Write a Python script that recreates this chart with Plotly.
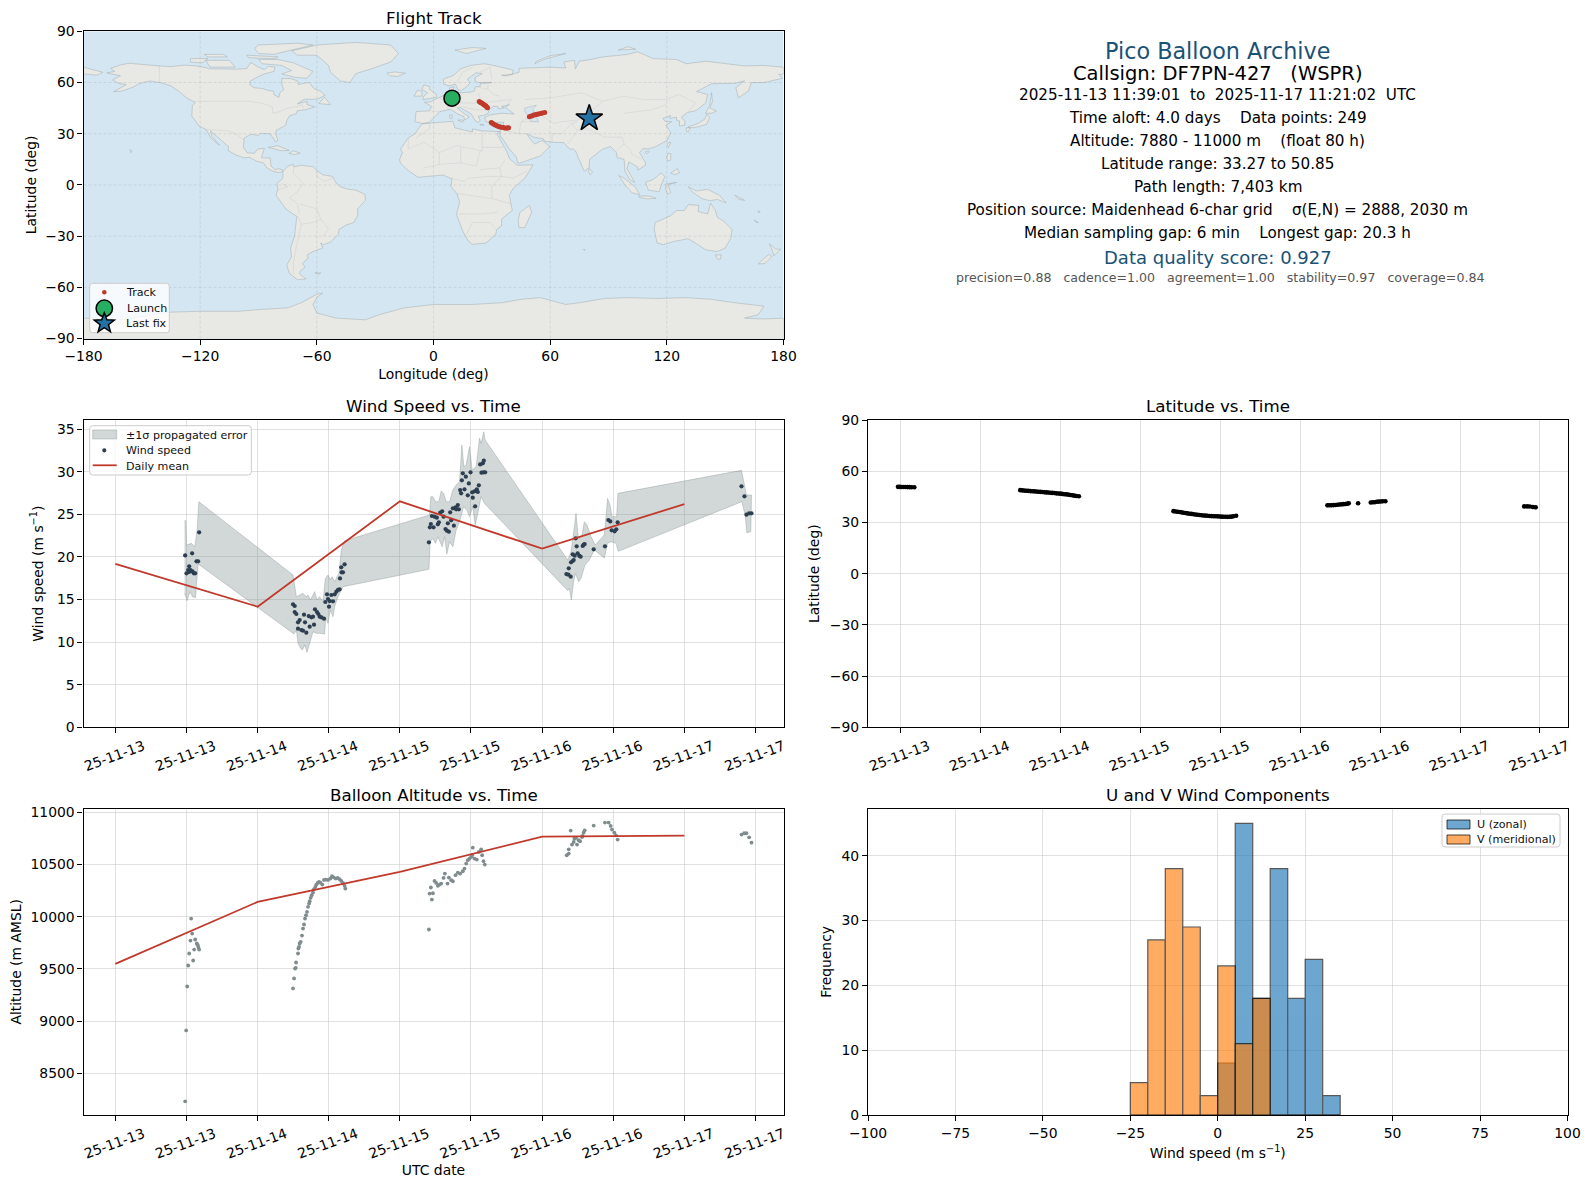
import math
import pandas as pd
import plotly.graph_objects as go

# ---------- chart data ----------
tick_hours = [0, 12, 24, 36, 48, 60, 72, 84, 96, 108]
tick_labels = ["25-11-13", "25-11-13", "25-11-14", "25-11-14", "25-11-15",
               "25-11-15", "25-11-16", "25-11-16", "25-11-17", "25-11-17"]
lat_tick_hours = [12, 24, 36, 48, 60, 72, 84, 96, 108]
lat_tick_labels = ["25-11-13", "25-11-14", "25-11-14", "25-11-15", "25-11-15",
                   "25-11-16", "25-11-16", "25-11-17", "25-11-17"]

wind_hours = [11.78, 12.96, 14.14, 13.69, 13.97, 12.46, 12.29, 12.68, 12.01, 12.46, 13.02, 13.24, 13.47,
              29.98, 30.26, 30.26, 30.54, 31.10, 30.82, 30.82, 31.38, 31.66, 32.22, 32.79, 33.52, 32.0, 31.83,
              32.62, 33.07, 33.35, 33.68, 34.02, 34.25, 34.47, 34.76, 35.2, 35.43, 35.71, 35.88, 36.05, 36.16,
              36.44, 36.72, 37.0, 37.29, 37.56, 37.84, 37.9, 38.12, 38.4, 38.68, 38.18,
              52.9, 53.06, 53.23, 53.68, 53.4, 53.85, 54.24, 54.41, 54.58, 54.81, 55.14, 55.37, 55.7, 55.93,
              56.27, 56.1, 56.49, 56.66, 57.11, 56.94, 57.39, 57.78, 57.5, 57.95, 58.17, 58.34, 58.46, 58.62,
              58.9, 59.13, 59.46, 59.63, 59.92, 60.3, 60.2, 60.59, 60.7, 60.98, 61.15, 61.32, 61.55, 61.77,
              61.99, 62.16, 62.11, 62.39,
              76.09, 76.43, 76.82, 76.49, 76.88, 77.16, 77.33, 77.16, 77.49, 77.83, 77.66, 77.99, 78.28, 78.5,
              78.84, 79.01, 79.18, 80.7, 82.6, 83.17, 83.5, 83.73, 84.23, 84.51, 84.74,
              105.63, 106.13, 106.47, 106.92, 107.32]
wind_speed = [20.18, 20.42, 22.88, 19.48, 19.48, 18.89, 18.46, 18.46, 18.07, 18.23, 18.31, 18.07, 18.07,
              14.43, 14.24, 13.53, 13.30, 12.59, 12.32, 11.58, 11.42, 11.34, 11.11, 11.81, 12.05, 12.32, 13.22,
              13.06, 12.91, 12.99, 13.85, 13.53, 13.30, 12.99, 12.91, 12.75, 14.71, 15.61, 15.06, 14.16, 14.82,
              15.53, 14.79, 15.61, 15.92, 16.12, 16.19, 17.48, 18.78, 18.19, 19.13, 18.19,
              21.71, 23.47, 23.86, 23.47, 24.8, 24.72, 24.6, 23.82, 24.06, 25.19, 25.35, 24.72, 23.27, 23.08,
              22.96, 23.94, 25.23, 24.29, 23.67, 25.7, 25.82, 26.09, 25.58, 25.58, 27.85, 27.46, 28.99, 29.81,
              27.93, 29.42, 27.23, 28.63, 29.93, 26.95, 27.58, 27.7, 25.94, 27.93, 27.62, 28.4, 30.86, 29.89,
              30.98, 31.3, 29.93, 29.93,
              17.99, 17.91, 17.68, 18.66, 19.36, 19.52, 19.64, 20.30, 20.15, 21.24, 22.18, 20.42, 20.11, 20.03,
              21.28, 21.44, 21.51, 20.89, 21.24, 24.33, 24.17, 23.12, 23.0, 23.24, 24.06,
              28.28, 27.11, 24.96, 25.11, 25.11]

upper_hours = [11.67, 11.9, 12.01, 12.85, 13.41, 13.8, 14.09, 29.98, 30.54, 31.1, 31.66, 32.22, 32.51, 32.9, 33.35,
               33.63, 34.02, 34.47, 35.03, 35.43, 35.88, 36.27, 36.55, 37.0, 37.39, 37.73, 38.12, 38.68, 53.0,
               53.23, 53.57, 54.02, 54.58, 54.97, 55.37, 55.82, 56.38, 56.94, 57.5, 58.06, 58.46, 58.79, 59.19,
               59.75, 60.2, 60.87, 61.43, 61.71, 62.16, 62.39, 76.32, 76.88, 77.44, 77.72, 78.11, 78.68, 79.12,
               79.57, 80.25, 80.98, 82.49, 83.05, 83.45, 83.78, 84.57, 84.79, 105.63, 106.08, 106.47, 107.32]
upper_speed = [24.25, 24.25, 21.39, 21.59, 21.2, 23.16, 26.48, 17.88, 15.33, 15.53, 15.72, 15.33, 15.53, 14.94, 15.53,
               15.92, 14.94, 15.33, 14.75, 17.48, 17.88, 17.29, 17.68, 17.09, 17.68, 18.07, 20.81, 21.9, 24.92,
               27.07, 27.07, 26.48, 26.48, 27.73, 27.46, 26.48, 26.48, 27.85, 28.44, 28.83, 33.13, 30.59, 30.79,
               32.94, 30.2, 30.59, 33.92, 33.33, 34.69, 33.72, 19.63, 20.61, 23.55, 25.12, 22.18, 22.37, 24.13,
               23.75, 22.37, 21.4, 22.57, 26.87, 26.09, 24.72, 24.72, 27.46, 30.16, 28.64, 27.27, 27.27]
lower_hours = [11.67, 12.12, 12.57, 13.02, 13.52, 13.97, 30.15, 30.54, 30.82, 31.27, 31.55, 31.94, 32.34, 32.79,
               33.35, 33.91, 34.47, 35.31, 35.48, 35.88, 36.27, 36.72, 37.0, 37.56, 38.4, 52.9, 53.12, 53.57,
               54.02, 54.41, 54.81, 55.14, 55.54, 55.93, 56.38, 56.94, 57.5, 58.17, 58.74, 59.3, 59.75, 60.3,
               60.7, 61.15, 61.71, 62.27, 76.32, 76.6, 76.93, 77.27, 77.6, 78.17, 78.56, 79.23, 79.96, 80.81,
               82.49, 83.05, 83.61, 84.45, 84.85, 105.69, 106.25, 106.53, 107.2]
lower_speed = [15.72, 14.86, 15.92, 15.33, 15.22, 19.17, 10.95, 11.42, 9.86, 9.27, 9.07, 9.66, 8.8, 9.86,
               11.22, 11.03, 11.03, 10.95, 12.79, 12.2, 13.77, 12.98, 14.16, 15.33, 16.5, 18.54, 21.79, 22.18,
               21.59, 22.37, 21.79, 21.2, 22.37, 20.34, 21.79, 21.2, 23.16, 24.33, 25.9, 25.5, 24.72, 25.9,
               23.75, 25.11, 27.07, 26.29, 16.04, 16.31, 14.94, 16.9, 18.07, 17.09, 17.48, 19.05, 19.63, 20.81,
               19.87, 21.59, 21.79, 21.59, 20.65, 26.48, 24.92, 22.84, 22.96]

daily_hours = [0, 24, 48, 72, 96]
daily_wind = [19.17, 14.16, 26.52, 20.97, 26.2]
daily_alt = [9549, 10142, 10429, 10768, 10777]

alt_hours = [11.78, 11.95, 12.12, 12.29, 13.13, 12.46, 13.3, 12.68, 12.96, 12.79, 13.47, 13.75, 13.92, 14.14, 14.03,
             29.98, 30.15, 30.32, 30.43, 30.49, 30.82, 30.88, 30.99, 31.1, 31.27, 31.49, 31.66, 31.83, 32.0, 32.17,
             32.34, 32.51, 32.68, 32.79, 32.96, 33.13, 33.35, 33.52, 33.74, 33.91, 34.14, 34.36, 34.59, 34.92, 35.2,
             35.49, 35.88, 36.27, 36.55, 36.83, 37.17, 37.5, 37.84, 38.12, 38.4, 38.68, 38.8,
             52.9, 53.4, 53.01, 53.57, 53.23, 54.41, 54.69, 53.85, 54.13, 54.97, 55.37, 55.59, 56.04, 56.27, 56.66,
             56.94, 57.39, 57.78, 58.17, 58.62, 58.9, 59.19, 59.46, 59.75, 60.03, 60.3, 60.59, 60.98, 61.32, 61.71,
             61.88, 62.11, 62.33, 60.2,
             76.15, 76.49, 76.49, 77.04, 76.82, 77.44, 77.33, 77.72, 77.89, 78.17, 78.4, 78.73, 78.84, 79.01, 79.18,
             80.7, 82.6, 83.22, 83.56, 83.79, 84.18, 84.46, 84.74,
             105.63, 106.08, 106.47, 106.92, 107.32]
alt_m = [8232, 8911, 9332, 9533, 9581, 9648, 9686, 9772, 9839, 9983, 9782, 9744, 9728, 9686, 9705,
         9313, 9409, 9504, 9511, 9562, 9648, 9696, 9712, 9744, 9760, 9820, 9887, 9926, 9983, 10015,
         10047, 10095, 10126, 10149, 10181, 10206, 10232, 10264, 10286, 10308, 10324, 10334, 10327, 10308, 10353,
         10356, 10353, 10366, 10388, 10378, 10366, 10372, 10359, 10343, 10324, 10296, 10270,
         9878, 10165, 10222, 10225, 10280, 10296, 10308, 10343, 10324, 10318, 10372, 10414, 10318, 10375, 10350,
         10340, 10398, 10423, 10414, 10436, 10461, 10509, 10541, 10557, 10573, 10662, 10557, 10548, 10621, 10646,
         10589, 10532, 10500, 10589,
         10589, 10605, 10646, 10691, 10825, 10748, 10717, 10755, 10691, 10733, 10723, 10764, 10774, 10806, 10828,
         10873, 10902, 10902, 10870, 10835, 10806, 10780, 10739,
         10787, 10800, 10800, 10761, 10710]

lat_hours = [11.65, 11.95, 12.2, 12.5, 12.8, 13.1, 13.4, 13.7, 14.1,
             30.0, 30.3, 30.6, 30.9, 31.2, 31.5, 31.8, 32.1, 32.4, 32.7, 33.0, 33.3, 33.6, 33.9, 34.2, 34.5, 34.8,
             35.1, 35.4, 35.7, 36.0, 36.3, 36.6, 36.9, 37.2, 37.5, 37.8, 38.1, 38.4, 38.8,
             53.0, 53.3, 53.6, 53.9, 54.2, 54.5, 54.8, 55.1, 55.4, 55.7, 56.0, 56.3, 56.6, 56.9, 57.2, 57.5, 57.8,
             58.1, 58.4, 58.7, 59.0, 59.3, 59.6, 59.9, 60.2, 60.5, 60.8, 61.1, 61.4, 61.7, 62.0, 62.4,
             76.1, 76.4, 76.7, 77.0, 77.3, 77.6, 77.9, 78.2, 78.5, 78.8, 79.1, 79.3, 80.7, 82.6, 82.9, 83.2, 83.5,
             83.8, 84.1, 84.4, 84.8,
             105.63, 106.08, 106.47, 106.92, 107.35]
lat_deg = [50.85, 50.8, 50.78, 50.75, 50.72, 50.7, 50.7, 50.65, 50.6,
           48.9, 48.8, 48.65, 48.6, 48.5, 48.35, 48.3, 48.2, 48.1, 48.0, 47.9, 47.8, 47.7, 47.6, 47.5, 47.4, 47.3,
           47.2, 47.05, 46.95, 46.85, 46.7, 46.55, 46.45, 46.3, 46.1, 45.9, 45.7, 45.5, 45.3,
           36.6, 36.4, 36.3, 36.1, 35.9, 35.7, 35.5, 35.3, 35.1, 35.0, 34.8, 34.65, 34.5, 34.35, 34.2, 34.1, 34.0,
           33.9, 33.8, 33.7, 33.65, 33.6, 33.55, 33.5, 33.4, 33.35, 33.3, 33.27, 33.3, 33.4, 33.6, 33.9,
           40.0, 40.05, 40.1, 40.15, 40.25, 40.4, 40.5, 40.6, 40.7, 40.8, 41.0, 41.2, 41.2, 41.7, 41.8, 41.85, 42.1,
           42.2, 42.3, 42.4, 42.4,
           39.4, 39.4, 39.3, 39.0, 38.9]

track_lon = [9.5, 10.0, 10.5, 11.0, 23.5, 24.0, 24.5, 25.0, 25.5, 26.0, 26.5, 27.0, 27.4, 27.8,
             29.7, 30.3, 31.0, 31.8, 32.6, 33.4, 34.2, 35.0, 35.8, 36.6, 37.4, 38.0, 38.6,
             49.3, 50.0, 50.8, 51.6, 52.4, 53.2, 54.0, 55.0, 56.0, 57.2,
             79.6, 80.1, 80.5]
track_lat = [50.85, 50.8, 50.7, 50.6, 48.9, 48.5, 48.1, 47.8, 47.4, 47.0, 46.6, 46.2, 45.7, 45.2,
             36.6, 36.1, 35.6, 35.1, 34.7, 34.3, 34.0, 33.8, 33.6, 33.4, 33.3, 33.3, 33.5,
             40.0, 40.3, 40.6, 40.9, 41.1, 41.4, 41.6, 41.9, 42.2, 42.4,
             39.4, 39.2, 38.9]
launch_lon, launch_lat = [9.5], [50.85]
last_lon, last_lat = [80.1], [39.0]

hist_centers = [-22.5, -17.5, -12.5, -7.5, -2.5, 2.5, 7.5, 12.5, 17.5, 22.5, 27.5, 32.5]
u_counts = [0, 0, 0, 0, 0, 8, 45, 18, 38, 18, 24, 3]
v_counts = [5, 27, 38, 29, 3, 23, 11, 18, 0, 0, 0, 0]

north_america = [(-168,65.6),(-164,66.5),(-166,68.3),(-161,70.3),(-156.5,71.3),(-150,70.5),(-141,69.7),(-135,69.3),(-128,70.2),(-120,69.5),(-115,68),(-108,68),(-102,67.8),(-96,68.2),(-94,71.8),(-90,69),(-87,67.5),(-85,69.5),(-81.5,69),(-82,66.5),(-87,65),(-90,63.5),(-94,61),(-94.5,58.8),(-92.5,57),(-88,56.5),(-85,55.3),(-82.3,55),(-82,52.8),(-79.5,51.3),(-79,54),(-77,56),(-78,58.8),(-78,62.4),(-73.5,62.3),(-70,61),(-69.5,58.8),(-65.5,59.8),(-64,60),(-61.5,56.5),(-58,54.8),(-55.7,52.5),(-60,50.2),(-66.5,50.2),(-70,47.5),(-65,49),(-65,47),(-61,45.8),(-66,44),(-70,43.5),(-70.5,41.7),(-74,40.6),(-75.5,37.5),(-76,35),(-78,33.8),(-81,31.8),(-81,29.5),(-80.1,26),(-81.2,25.2),(-82.8,28),(-84,30),(-89,30.2),(-90,29.1),(-94,29.6),(-97.3,27.5),(-97.8,22.3),(-95.8,18.8),(-92,18.6),(-90.5,21),(-87,21.5),(-88,18),(-88.5,15.9),(-84,15.8),(-83.5,11),(-81.5,9),(-79.5,9.5),(-77.4,8.6),(-78,7.5),(-80,7.3),(-83,8.2),(-85.7,10),(-87.5,13),(-91,13.9),(-94.5,16.2),(-97.5,15.9),(-101.5,17.5),(-105.5,20),(-105.5,22.5),(-109,26),(-112.7,30),(-114.7,31.7),(-114,28.5),(-110,23.2),(-112,25),(-114.5,27.5),(-117,32.5),(-120.6,34.5),(-122.5,37.7),(-124.3,40.3),(-124,46.5),(-122.5,48.3),(-127,51),(-130.5,54.5),(-135,58),(-140,59.8),(-146,60.9),(-151.5,59.3),(-154,57.5),(-160,55),(-164.5,54.6),(-158,58.8),(-162,59.5),(-165,61.5),(-161,64)]
south_america = [(-77,8.5),(-75,11),(-72,12),(-71.5,10.7),(-68,11.5),(-62,10.7),(-60,8.5),(-57,6),(-52,5),(-50,1),(-48,-1),(-44,-2.5),(-40,-3),(-35.3,-5.5),(-35,-9),(-39,-14),(-39,-18),(-41,-22),(-45,-23.5),(-48.5,-26),(-49,-29),(-53,-33.5),(-56.5,-35),(-58,-34),(-57,-37),(-62,-39),(-65,-41),(-64.5,-43),(-67.5,-46),(-66,-48),(-69,-51),(-68.5,-52.5),(-65.5,-55),(-70,-55.5),(-74,-52),(-75.5,-47),(-73,-42),(-73.5,-37),(-71.5,-30),(-70.3,-18.5),(-76,-14),(-81,-6),(-80,-2.5),(-80.5,0.8),(-77.5,4),(-77.5,7)]
eurasia = [(-9.5,37),(-9,43),(-2,43.4),(-1,46),(-4.7,48.4),(-1.5,48.7),(1.5,50.5),(3.5,51.4),(7,53.4),(8.5,54),(8.2,56.8),(10.5,57.5),(10,54.5),(14,54),(19,54.4),(21,55),(21.5,57.5),(24,57.5),(24,59.3),(30,60),(23,60),(21.3,61),(21.5,63),(25,65.2),(22,65.7),(17.5,62),(18.8,59.7),(16.5,57),(14.3,55.5),(12.8,55.5),(11.2,59),(8,58),(5.3,59),(5,62),(10,64),(14,68),(19,70),(26,71),(31,70),(41,67.3),(40.5,64.6),(35,64.3),(37,63.9),(44,66),(44,68.3),(54,68.5),(60,69),(68,68.5),(67,72),(72.5,73),(73,68),(75,72.5),(81,73.5),(87,75),(100,76.5),(105,78),(113,74),(125,73.5),(130,71),(140,72.5),(150,71),(160,69.7),(170,70),(180,69),(180,65),(177.5,64.7),(179.5,62.5),(170,60),(163.5,60),(163,58),(162,55),(156.8,51),(155.5,57),(160,61),(155,59.5),(143,59.3),(135.3,54.7),(141,53),(140,48),(135,43.5),(130.7,42.5),(127.5,39.8),(129.4,37),(129,35),(126.5,34.5),(126.5,37.5),(125,38),(125,39.7),(121.5,39),(122,40.7),(118,39),(119,37.3),(122.5,37),(119.5,35),(122,30.5),(120,26),(114,22.3),(110,21),(108,21.5),(106,19),(109,13),(109,11.5),(105,8.7),(105,10.5),(100.5,13.5),(99.5,9.5),(103.5,1.5),(101,3),(98.5,8),(98,15),(94.5,16),(94,19),(91,22.5),(87,21),(80.3,15),(80,10),(77.5,8),(73,20),(72,21),(70,21),(67,24.8),(61.5,25),(57,25.7),(56.5,27),(51.5,28),(48,30),(50,26.5),(52,24),(56,26),(59.8,22.5),(55,17),(45,13),(43.3,12.8),(42.5,16.5),(39,21),(35,28),(34.3,28),(34.3,31.3),(36,35),(36,36.8),(30.5,36.5),(27,37),(26.3,39.5),(29,41),(35,42),(41.5,41.5),(38,44.5),(37,45.5),(39,47),(35,46),(36.5,45.2),(33.5,44.5),(33,46),(30.7,46),(28.5,44),(28,41.8),(26,40.8),(23,40.3),(24,38),(23,36.5),(21.5,37.5),(19.5,41.5),(13.5,45.5),(12.3,45),(16,41.5),(18.5,40),(16,38),(15.7,40),(12.5,41.5),(8.8,44.3),(3.2,43),(0,39.5),(-2,36.8),(-5.5,36)]
africa = [(-6,35.8),(10,37.3),(11,33.5),(15,32.3),(20,31),(20,32.8),(25,31.7),(32,31.3),(34.3,31.3),(32.5,30),(35.5,24),(37.5,20),(39,15.5),(43,11.5),(51.2,11.8),(47,4),(41,-2),(39,-6),(40.5,-15),(35,-20),(35,-24),(32.5,-26),(32,-29),(27,-34),(20,-34.8),(18,-33),(15,-27),(11.8,-17),(13.5,-10),(12,-5),(9,-1),(9.5,3.5),(5,5.8),(-4,5.2),(-8,4.5),(-13,8.5),(-16.8,12.5),(-17.5,14.7),(-16,19),(-17,21),(-13,27.5),(-9.5,30)]
australia = [(114,-22),(113.5,-26),(115,-34),(118,-35),(124,-33),(131,-31.5),(136,-35),(140,-38),(146,-39),(150,-37),(153,-31),(153.5,-26),(149,-21),(146,-19),(145,-15),(142.5,-10.7),(141,-17),(136,-15.5),(136.5,-12),(131,-11.5),(129,-15),(125,-15),(122,-18)]
antarctica = [(-180,-78),(-160,-79),(-150,-77),(-135,-74.5),(-120,-74),(-100,-74),(-90,-73),(-75,-72),(-68,-69),(-60,-64),(-57,-63.3),(-60,-66),(-62,-70),(-60,-75),(-50,-78),(-35,-79),(-28,-76),(-15,-72),(0,-70),(20,-70),(35,-69),(45,-67),(55,-66),(68,-70),(75,-69),(88,-66.5),(100,-66),(115,-66.5),(130,-66),(143,-67),(155,-69),(170,-71),(167,-76),(160,-78),(170,-78.5),(180,-78),(180,-90),(-180,-90)]
greenland = [(-73,78.5),(-60,82),(-40,83.5),(-22,82),(-18,77),(-22,72),(-32,68),(-40,65.2),(-43,60),(-48,61),(-53,66),(-54,70),(-60,76),(-70,76)]
islands = [
    [(-80,73.5),(-72,71.5),(-68,69.5),(-62,66.5),(-65,62.5),(-71,63),(-78,65),(-73,67),(-78,70),(-88,71),(-90,73.5)],
    [(-117,73),(-105,73),(-102,69),(-115,69)], [(-125,74),(-116,74),(-119,71.5),(-125,72)],
    [(-90,77),(-82,76.5),(-75,78.5),(-62,82),(-70,83),(-90,82),(-92,80)], [(-96,76),(-80,75),(-82,74),(-95,74.5)],
    [(-118,76.5),(-108,76.5),(-106,75),(-116,75)], [(-59,47.7),(-56,51.5),(-53,47)],
    [(-85,22),(-80,23),(-74.2,20.2),(-78,20)], [(-74.4,18.5),(-72,20),(-68.5,18.6),(-71.5,17.8)],
    [(-156,20.8),(-155,19.7),(-155.8,19)], [(-61,-51.5),(-58,-51.5),(-59,-52.3)],
    [(-24,65.5),(-20,66.2),(-14.5,65.5),(-18.5,63.5),(-22.5,64)], [(-5.5,50),(1.5,51.2),(1.5,53),(-2,56),(-2,57.7),(-5,58.6),(-6,56),(-3,54),(-5,52)],
    [(-10,52),(-6,52),(-6,55),(-8.5,55.3)], [(49.3,-12),(50.5,-16),(47,-25),(44,-25),(43.5,-21),(44.5,-16)],
    [(145,-41),(148,-41),(147.5,-43.5),(146,-43.5)], [(172.7,-34.5),(176,-37.5),(178.5,-37.7),(175,-41.5),(174.5,-39),(173.5,-36)],
    [(172.5,-40.7),(174,-42),(170.5,-46),(167,-46.3),(169,-44)], [(131,-1),(135,-3.5),(141,-2.6),(147,-6),(150.5,-10.5),(146,-8.5),(142,-9.2),(138,-8),(133,-4)],
    [(109,1.5),(113,3.2),(117,7),(119,5),(117.5,1),(116,-4),(110.5,-3)], [(95.3,5.5),(98,4),(104,-1.5),(106,-5.8),(102,-4.5),(98.5,0)],
    [(105.5,-6.5),(111,-6.5),(114.5,-7.8),(110,-8.2),(106,-7.4)], [(119.5,0.5),(125,1.5),(120.5,0.2),(122,-4.5),(120.5,-5.5),(119.5,-3)],
    [(120.5,18.5),(122,18.3),(122,14.5),(120.5,14),(120,16)], [(122,7),(125.5,9.5),(126.5,7),(124,6)],
    [(121,25),(122,24.8),(120.8,22),(120.1,23.3)], [(108.8,19.2),(110.5,20),(111,19.5),(109.5,18.2)],
    [(80,9.7),(81.8,7.5),(80.5,6),(79.8,8)], [(130.9,34),(136,36),(139.5,38.5),(140.5,41.5),(142,39.5),(140.5,35.5),(136,34),(132,33.5)],
    [(140,42),(141.5,45.5),(145.5,43.3),(143,42)], [(130,33.5),(132,33.5),(131,31),(130,31.5)], [(142,46),(143,54),(143.5,49),(142.5,46.2)],
    [(52,71),(57,73.5),(68,77),(60,75.7),(53,72.5)], [(11,79),(20,80.5),(27,80),(17,77)], [(95,79),(104,79.5),(100,81)],
    [(-180,69),(-175,67.5),(-170,66),(-173,64.3),(-180,65)], [(12.5,38),(15.5,38),(15,36.7)], [(8.3,41),(9.7,41),(9.5,39),(8.5,39)],
    [(24,35.5),(26,35.2),(24,35)], [(32.5,35),(34.5,35.5),(33.5,34.7)], [(167,-15),(168,-16),(167,-16)], [(165,-20.5),(167,-22),(166,-22)],
    [(77,-37.8),(78,-38),(77.5,-38.4)], [(155,-6),(160,-9),(157,-8.5)],
]
caspian = [(47,45),(53,46.8),(51,44.5),(53,40),(54,37),(50,37.3),(49,40),(47,43)]
borders = [
    [(-123,49),(-95,49),(-89,48),(-83,46),(-82.5,42),(-79,43),(-75,45),(-70,46),(-67.5,47),(-67,45)],
    [(-141,60),(-141,69.7)], [(-117,32.5),(-106,31.7),(-101,29.5),(-97.3,26)],
    [(-72,12),(-72,7),(-67,1),(-70,-4),(-74,-7.5),(-70,-11),(-69,-17)], [(-60,8.5),(-60,5),(-56,2),(-52,4)],
    [(-70,-18),(-68,-23),(-70,-33),(-72,-45),(-72,-52)], [(-58,-20),(-54,-26),(-57,-30)], [(-69,-11),(-60,-14),(-58,-20),(-62,-22),(-68,-23)],
    [(-80,-3),(-75,-1),(-78,1)], [(-2,36),(-2,33),(-9,27.5)], [(-13,27.5),(-13,21),(-5,25),(3,19),(12,23),(25,20),(25,31.7)], [(25,22),(36,22)],
    [(3,12),(3,19)], [(-5,10),(3,12),(14,13),(14,22)], [(14,13),(22,11),(24,20)], [(24,9),(34,10),(37,15)], [(34,10),(35,5),(41,4),(48,8)],
    [(35,5),(30,-1),(30,-8),(40,-11)], [(12,-5),(30,-8)], [(13,-17),(25,-17),(33,-16)], [(17,-29),(20,-22),(29,-22),(32,-26)],
    [(9,4),(16,2),(18,4),(28,5),(35,5)], [(-1,43),(3,43)], [(3,51),(7,48),(7.5,44)], [(6.5,53),(6,50),(14,48),(14,54)], [(14,48),(22,48),(24,51),(23,54)],
    [(14,46),(22,44),(28,44)], [(28,46),(24,48),(40,50),(38,47)], [(24,57),(28,56),(31,53),(34,52)], [(28,56),(28,60)], [(24,66),(29,69),(30,62)],
    [(12,60),(15,66),(20,69)], [(47,50),(60,51),(76,54),(87,49)], [(55,41),(62,36),(66,37),(74,38),(80,42),(87,49)], [(48,39),(45,37),(44,30),(48,30)],
    [(36,32),(44,30)], [(45,37),(54,37)], [(61,30),(61,25)], [(61,30),(66,30),(71,36),(74,37)], [(71,36),(74,32),(71,27),(69,24)], [(74,32),(79,33),(88,28),(97,28)],
    [(97,28),(98,24),(101,21),(102,18),(107,15)], [(98,24),(94,20)], [(87,49),(98,52),(108,50),(120,50),(126,53),(135,48),(131,43)], [(98,42),(112,44),(120,47)],
]
grid_lons = [-120, -60, 0, 60, 120]
grid_lats = [-60, -30, 0, 30, 60]

info_lines = [
    ("Pico Balloon Archive", 22.3, "#1a5276", 51, 1217.5),
    ("Callsign: DF7PN-427   (WSPR)", 19.5, "#000000", 73.5, 1217.5),
    ("2025-11-13 11:39:01  to  2025-11-17 11:21:02  UTC", 15.2, "#000000", 95, 1217),
    ("Time aloft: 4.0 days    Data points: 249", 15.2, "#000000", 118.3, 1217.5),
    ("Altitude: 7880 - 11000 m    (float 80 h)", 15.2, "#000000", 141.3, 1217.5),
    ("Latitude range: 33.27 to 50.85", 15.2, "#000000", 164.3, 1217.5),
    ("Path length: 7,403 km", 15.2, "#000000", 187.3, 1217.5),
    ("Position source: Maidenhead 6-char grid    σ(E,N) = 2888, 2030 m", 15.2, "#000000", 210.3, 1217.5),
    ("Median sampling gap: 6 min    Longest gap: 20.3 h", 15.2, "#000000", 233.3, 1217.5),
    ("Data quality score: 0.927", 18, "#1a5276", 257.5, 1217.5),
    ("precision=0.88   cadence=1.00   agreement=1.00   stability=0.97   coverage=0.84", 12.6, "#555555", 277.7, 1220),
]

# ---------- helpers ----------
W, H = 1589, 1189
FONT = "DejaVu Sans"
TICK = 13.9
GRID = "rgba(200,200,200,0.55)"
BASE = pd.Timestamp("2025-11-13")
BAND = "rgba(127,140,141,0.35)"
RED = "#c0392b"


def when(hours):
    return [BASE + pd.Timedelta(hours=h) for h in hours]


def xd(a, b):
    return [a / W, b / W]


def yd(top, bottom):
    return [1 - bottom / H, 1 - top / H]


def rings(polys):
    xs, ys = [], []
    for poly in polys:
        closed = list(poly) + [poly[0]]
        xs += [p[0] for p in closed] + [None]
        ys += [p[1] for p in closed] + [None]
    return xs, ys


def lines(polys):
    xs, ys = [], []
    for poly in polys:
        xs += [p[0] for p in poly] + [None]
        ys += [p[1] for p in poly] + [None]
    return xs, ys


COL1, COL2 = (83.5, 783.5), (868, 1567.5)
ROW1, ROW2, ROW3 = (31.3, 338.6), (420, 727.3), (808.7, 1115)

fig = go.Figure()

# ---------- map ----------
COAST = "rgba(150,160,165,0.6)"
lx, ly = rings([north_america, south_america, eurasia, africa, australia, antarctica, greenland] + islands)
fig.add_trace(go.Scatter(x=lx, y=ly, mode="lines", fill="toself", fillcolor="#e8e8e4",
                         line=dict(color=COAST, width=0.7),
                         hoverinfo="skip", showlegend=False, xaxis="x", yaxis="y"))
cx, cy = rings([caspian])
fig.add_trace(go.Scatter(x=cx, y=cy, mode="lines", fill="toself", fillcolor="#d4e6f1",
                         line=dict(color=COAST, width=0.6),
                         hoverinfo="skip", showlegend=False, xaxis="x", yaxis="y"))
bx, by = lines(borders)
fig.add_trace(go.Scatter(x=bx, y=by, mode="lines", line=dict(color="rgba(190,195,195,0.45)", width=0.7),
                         hoverinfo="skip", showlegend=False, xaxis="x", yaxis="y"))
gx, gy = lines([[(v, -90), (v, 90)] for v in grid_lons] + [[(-180, v), (180, v)] for v in grid_lats])
fig.add_trace(go.Scatter(x=gx, y=gy, mode="lines", line=dict(color="rgba(120,125,130,0.24)", width=0.7, dash="3px,2px"),
                         hoverinfo="skip", showlegend=False, xaxis="x", yaxis="y"))
fig.add_trace(go.Scatter(x=track_lon, y=track_lat, mode="markers", name="Track", showlegend=False,
                         marker=dict(color=RED, size=5, line=dict(width=0)), xaxis="x", yaxis="y"))
fig.add_trace(go.Scatter(x=launch_lon, y=launch_lat, mode="markers", name="Launch", showlegend=False,
                         marker=dict(color="#27ae60", size=16, line=dict(color="black", width=1.5)),
                         xaxis="x", yaxis="y"))
fig.add_trace(go.Scatter(x=last_lon, y=last_lat, mode="markers", name="Last fix", showlegend=False,
                         marker=dict(color="#2471a3", size=20, symbol="star", line=dict(color="black", width=1.5)),
                         xaxis="x", yaxis="y"))

# ---------- wind ----------
fig.add_trace(go.Scatter(x=when(upper_hours + lower_hours[::-1]), y=upper_speed + lower_speed[::-1],
                         mode="lines", fill="toself", fillcolor=BAND, showlegend=False,
                         line=dict(color=BAND, width=1), name="±1σ propagated error", xaxis="x2", yaxis="y2"))
fig.add_trace(go.Scatter(x=when(wind_hours), y=wind_speed, mode="markers", name="Wind speed", showlegend=False,
                         marker=dict(color="#2c3e50", size=4.2, line=dict(width=0)), xaxis="x2", yaxis="y2"))
fig.add_trace(go.Scatter(x=when(daily_hours), y=daily_wind, mode="lines", name="Daily mean", showlegend=False,
                         line=dict(color=RED, width=1.8), xaxis="x2", yaxis="y2"))

# ---------- latitude ----------
fig.add_trace(go.Scatter(x=when(lat_hours), y=lat_deg, mode="markers", showlegend=False, name="Latitude",
                         marker=dict(color="black", size=4.6, line=dict(width=0)), xaxis="x3", yaxis="y3"))

# ---------- altitude ----------
fig.add_trace(go.Scatter(x=when(alt_hours), y=alt_m, mode="markers", showlegend=False, name="Altitude",
                         marker=dict(color="#7f8c8d", size=3.8, line=dict(width=0)), xaxis="x4", yaxis="y4"))
fig.add_trace(go.Scatter(x=when(daily_hours), y=daily_alt, mode="lines", showlegend=False, name="Daily mean altitude",
                         line=dict(color=RED, width=1.8), xaxis="x4", yaxis="y4"))

# ---------- histogram ----------
fig.add_trace(go.Bar(x=hist_centers, y=u_counts, width=5, name="U (zonal)", opacity=0.65, showlegend=False,
                     marker=dict(color="#1f77b4", line=dict(color="black", width=1.2)), xaxis="x5", yaxis="y5"))
fig.add_trace(go.Bar(x=hist_centers, y=v_counts, width=5, name="V (meridional)", opacity=0.65, showlegend=False,
                     marker=dict(color="#ff7f0e", line=dict(color="black", width=1.2)), xaxis="x5", yaxis="y5"))

# ---------- axes ----------
axis_base = dict(showline=True, linecolor="black", linewidth=1.1, mirror=True, ticks="outside", ticklen=5,
                 tickwidth=1.1, tickcolor="black", tickfont=dict(size=TICK, color="black"), zeroline=False,
                 showgrid=True, gridcolor=GRID, gridwidth=1, automargin=False)
title_font = dict(size=TICK, color="black")


def date_axis(dom, anchor, vals, text, lo, hi, title=None, standoff=4):
    ax = dict(axis_base)
    ax.update(domain=dom, anchor=anchor, type="date", tickmode="array", tickvals=when(vals), ticktext=text,
              tickangle=-20, ticklabelshift=28, range=[when([lo])[0], when([hi])[0]])
    if title:
        ax["title"] = dict(text=title, font=title_font, standoff=standoff)
    return ax


def num_axis(dom, anchor, rng, vals, title, grid=True, standoff=4, fmt=None):
    ax = dict(axis_base)
    ax.update(domain=dom, anchor=anchor, range=rng, tickmode="array", tickvals=vals, showgrid=grid,
              title=dict(text=title, font=title_font, standoff=standoff))
    if fmt:
        ax["tickformat"] = fmt
    return ax


# ---------- legends (compact boxes like the reference) ----------
shapes = [dict(type="rect", xref="x", yref="y", x0=-180, x1=180, y0=-90, y1=90, fillcolor="#d4e6f1",
               line=dict(width=0), layer="below")]
notes = []


def px_x(v):
    return v / W


def px_y(v):
    return 1 - v / H


def paper_shape(**kw):
    s = dict(xref="paper", yref="paper", layer="above")
    s.update(kw)
    shapes.append(s)


def box(x0, y0, x1, y1, r=3):
    path = (f"M{px_x(x0 + r)},{px_y(y0)} L{px_x(x1 - r)},{px_y(y0)} Q{px_x(x1)},{px_y(y0)} {px_x(x1)},{px_y(y0 + r)} "
            f"L{px_x(x1)},{px_y(y1 - r)} Q{px_x(x1)},{px_y(y1)} {px_x(x1 - r)},{px_y(y1)} "
            f"L{px_x(x0 + r)},{px_y(y1)} Q{px_x(x0)},{px_y(y1)} {px_x(x0)},{px_y(y1 - r)} "
            f"L{px_x(x0)},{px_y(y0 + r)} Q{px_x(x0)},{px_y(y0)} {px_x(x0 + r)},{px_y(y0)} Z")
    paper_shape(type="path", path=path, fillcolor="rgba(255,255,255,0.8)", line=dict(color="#cccccc", width=1))


def dot(cx, cy, r, fill, edge=None, w=0):
    paper_shape(type="circle", x0=px_x(cx - r), x1=px_x(cx + r), y0=px_y(cy - r), y1=px_y(cy + r), fillcolor=fill,
                line=dict(color=edge or fill, width=w))


def star(cx, cy, r, fill, edge, w):
    pts = []
    for i in range(10):
        rad = r if i % 2 == 0 else r * 0.42
        a = math.pi / 2 + i * math.pi / 5
        pts.append((px_x(cx + rad * math.cos(a)), px_y(cy - rad * math.sin(a))))
    path = "M" + " L".join(f"{a},{b}" for a, b in pts) + " Z"
    paper_shape(type="path", path=path, fillcolor=fill, line=dict(color=edge, width=w))


def legend_text(text, x, yc):
    notes.append(dict(text=text, xref="paper", yref="paper", x=px_x(x), y=px_y(yc), xanchor="left", yanchor="middle",
                      showarrow=False, font=dict(size=11.1, color="#111111")))


# map legend
box(89.7, 283.3, 169.3, 332.7)
dot(104.3, 292.3, 2.3, RED)
dot(104.3, 308.3, 8.2, "#27ae60", "black", 1.5)
star(104.3, 323.3, 10.5, "#2471a3", "black", 1.5)
legend_text("Track", 124.3, 292.3)
legend_text("Launch", 124.8, 308.3)
legend_text("Last fix", 124.3, 323.3)

# wind legend
box(89.7, 425.7, 251.3, 475)
paper_shape(type="rect", x0=px_x(92.7), x1=px_x(116.7), y0=px_y(430), y1=px_y(439), fillcolor=BAND, line=dict(color=BAND, width=1))
dot(104.3, 450.3, 2.1, "#2c3e50")
paper_shape(type="line", x0=px_x(92.7), x1=px_x(116.7), y0=px_y(465.3), y1=px_y(465.3), line=dict(color=RED, width=1.8))
legend_text("±1σ propagated error", 124.3, 435.3)
legend_text("Wind speed", 124.3, 450.3)
legend_text("Daily mean", 124.3, 466.3)

# histogram legend
box(1442, 814, 1560, 847)
paper_shape(type="rect", x0=px_x(1447), x1=px_x(1470), y0=px_y(820), y1=px_y(829), fillcolor="rgba(31,119,180,0.65)", line=dict(color="rgba(0,0,0,0.7)", width=1))
paper_shape(type="rect", x0=px_x(1447), x1=px_x(1470), y0=px_y(835), y1=px_y(844), fillcolor="rgba(255,127,14,0.65)", line=dict(color="rgba(0,0,0,0.7)", width=1))
legend_text("U (zonal)", 1475, 824.5)
legend_text("V (meridional)", 1475, 839.5)

fig.update_layout(
    xaxis=num_axis(xd(*COL1), "y", [-180, 180], [-180, -120, -60, 0, 60, 120, 180], "Longitude (deg)", grid=False, standoff=5),
    yaxis=num_axis(yd(*ROW1), "x", [-90, 90], [-90, -60, -30, 0, 30, 60, 90], "Latitude (deg)", grid=False, standoff=5),
    xaxis2=date_axis(xd(*COL1), "y2", tick_hours, tick_labels, -5.37, 112.72),
    yaxis2=num_axis(yd(*ROW2), "x2", [0, 36.07], [0, 5, 10, 15, 20, 25, 30, 35], "Wind speed (m s<sup>−1</sup>)", standoff=10),
    xaxis3=date_axis(xd(*COL2), "y3", lat_tick_hours, lat_tick_labels, 7.15, 112.13),
    yaxis3=num_axis(yd(*ROW2), "x3", [-90, 90], [-90, -60, -30, 0, 30, 60, 90], "Latitude (deg)", standoff=6),
    xaxis4=date_axis(xd(*COL1), "y4", tick_hours, tick_labels, -5.37, 112.72, title="UTC date", standoff=4),
    yaxis4=num_axis(yd(*ROW3), "x4", [8101, 11035], [8500, 9000, 9500, 10000, 10500, 11000], "Altitude (m AMSL)", fmt="d", standoff=5),
    xaxis5=num_axis(xd(*COL2), "y5", [-100, 100], [-100, -75, -50, -25, 0, 25, 50, 75, 100], "Wind speed (m s<sup>−1</sup>)", standoff=8),
    yaxis5=num_axis(yd(*ROW3), "x5", [0, 47.25], [0, 10, 20, 30, 40], "Frequency", standoff=6),
    barmode="overlay", showlegend=False,
    width=W, height=H, margin=dict(l=0, r=0, t=0, b=0), autosize=False,
    paper_bgcolor="white", plot_bgcolor="white",
    font=dict(family=FONT, color="black", size=TICK),
    shapes=shapes,
)

# ---------- titles and info panel ----------
for text, col, top in [("Flight Track", COL1, ROW1[0]), ("Wind Speed vs. Time", COL1, ROW2[0]),
                       ("Latitude vs. Time", COL2, ROW2[0]), ("Balloon Altitude vs. Time", COL1, ROW3[0]),
                       ("U and V Wind Components", COL2, ROW3[0])]:
    notes.append(dict(text=text, xref="paper", yref="paper", x=(col[0] + col[1]) / 2 / W, y=1 - (top - 1.7) / H,
                      xanchor="center", yanchor="bottom", showarrow=False, font=dict(size=16.7, color="black")))
for text, size, color, yc, xc in info_lines:
    notes.append(dict(text=text, xref="paper", yref="paper", x=xc / W, y=1 - yc / H,
                      xanchor="center", yanchor="middle", showarrow=False, font=dict(size=size, color=color)))
fig.update_layout(annotations=notes)

fig.write_html("out.html", config={"displayModeBar": False}, post_script="document.body.style.margin='0';")
